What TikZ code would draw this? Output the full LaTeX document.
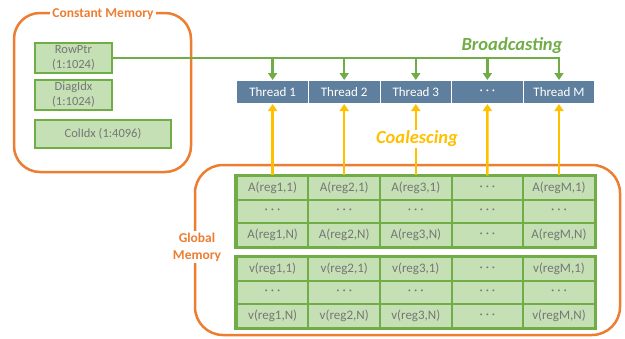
\documentclass[tikz,border=0pt]{standalone}
\usepackage{fontspec}
\setmainfont{Carlito}
\usetikzlibrary{arrows.meta,positioning}
\definecolor{laranja}{HTML}{ED7D31}
\definecolor{verde}{HTML}{70AD47}
\definecolor{verdeclaro}{HTML}{C5E0B4}
\definecolor{ouro}{HTML}{FFC000}
\definecolor{azul}{HTML}{5F7F9E}
\definecolor{cinza}{HTML}{767676}
\newcommand{\pontos}{· · ·}
\tikzset{
	caixa/.style={draw=laranja, line width=2.5pt, rounded corners=26pt},
	titulo/.style={fill=white, text=laranja, font=\fontsize{13.5}{17}\bfseries, align=center, inner sep=2pt},
	dado/.style={draw=verde, fill=verdeclaro, line width=2.5pt, text=cinza, align=center, inner sep=0pt, font=\fontsize{12.5}{15}\selectfont},
	celula/.style={draw=verde, fill=verdeclaro, line width=2pt, inner sep=0pt, minimum width=71.6pt, minimum height=23.5pt, text=cinza, font=\fontsize{13}{15}\selectfont},
	thread/.style={fill=azul, draw=white, line width=1pt, inner sep=0pt, minimum width=71.6pt, minimum height=23pt, text=white, font=\fontsize{13}{15}\selectfont},
	setaverde/.style={draw=verde, line width=2.5pt, -{Triangle[length=7pt,width=9pt]}},
	setaouro/.style={draw=ouro, line width=2.5pt, -{Triangle[length=7pt,width=9pt]}},
	rotulo/.style={font=\fontsize{18.5}{20}\bfseries\itshape, fill=white, inner sep=1pt},
}
\begin{document}
\begin{tikzpicture}[x=1pt, y=-1pt]
	\useasboundingbox (0,0) rectangle (625,338);

	% Memoria constante
		\draw[caixa] (14,13) rectangle (191,172);
		\node[titulo] (tconst) at (103,14) {Constant Memory};
		\node[dado, minimum width=77pt, minimum height=30pt] (rowptr) at (73.5,58) {RowPtr\\(1:1024)};
		\node[dado, minimum width=77pt, minimum height=30pt] (diagidx) at (73.5,95) {DiagIdx\\(1:1024)};
		\node[dado, minimum width=136pt, minimum height=28pt] (colidx) at (103,134) {ColIdx (1:4096)};

	% Memoria global
		\draw[caixa, rounded corners=28pt] (195,165) rectangle (620,335);
		\node[titulo] (tglobal) at (197,247) {Global\\Memory};

	% Threads
		\foreach \i/\txt in {1/Thread 1, 2/Thread 2, 3/Thread 3, 4/\pontos, 5/Thread M}
			\node[thread] (t\i) at ({201+71.6*\i},92) {\txt};

	% As tabelas de A e v
		\foreach \i/\r in {1/reg1, 2/reg2, 3/reg3, 5/regM}{
			\node[celula] (a\i-1) at ({201+71.6*\i},188) {A(\r,1)};
			\node[celula] (a\i-2) at ({201+71.6*\i},211.5) {\pontos};
			\node[celula] (a\i-3) at ({201+71.6*\i},235) {A(\r,N)};
			\node[celula] (v\i-1) at ({201+71.6*\i},269) {v(\r,1)};
			\node[celula] (v\i-2) at ({201+71.6*\i},292.5) {\pontos};
			\node[celula] (v\i-3) at ({201+71.6*\i},316) {v(\r,N)};
		}
		\foreach \j/\y in {1/188, 2/211.5, 3/235}{
			\node[celula] (a4-\j) at (487.4,\y) {\pontos};
			\node[celula] (v4-\j) at (487.4,{\y+81}) {\pontos};
		}
		\draw[verde, line width=3pt] (a1-1.north west) rectangle (a5-3.south east);
		\draw[verde, line width=3pt] (v1-1.north west) rectangle (v5-3.south east);

	% Broadcasting
		\draw[setaverde] (rowptr.east) -| (t5.north);
		\foreach \i in {1,...,4}
			\draw[setaverde] (t\i.north |- rowptr.east) -- (t\i.north);
		\node[rotulo, text=verde, fill=none] (broad) at (512,46) {Broadcasting};

	% Coalescing
		\foreach \i in {1,...,5}
			\draw[setaouro] (a\i-1.north) -- (t\i.south);
		\node[rotulo, text=ouro] (coal) at (417,139) {Coalescing};
\end{tikzpicture}
\end{document}
